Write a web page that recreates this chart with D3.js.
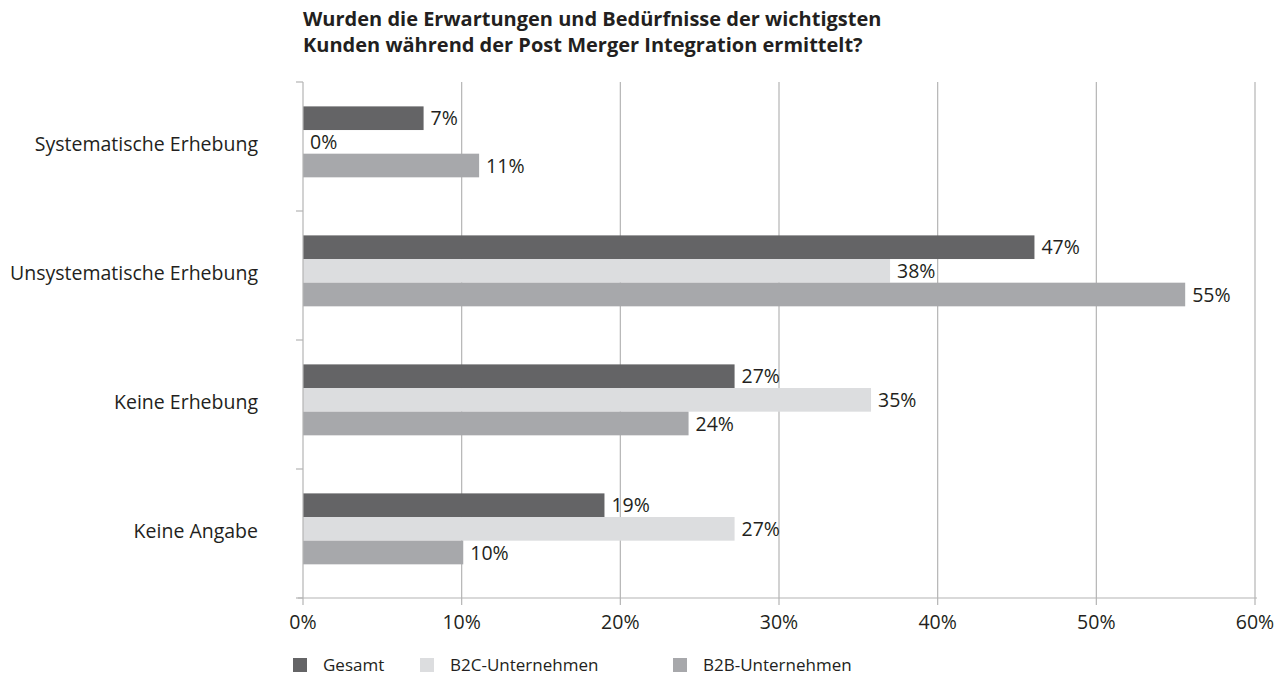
<!DOCTYPE html>
<html>
<head>
<meta charset="utf-8">
<script src="https://cdn.jsdelivr.net/npm/d3@7"></script>
<style>
  html, body { margin: 0; padding: 0; background: #fff; }
  svg { display: block; font-family: "Open Sans", "Noto Sans", sans-serif; }
</style>
</head>
<body>
<svg id="chart" width="1287" height="678"></svg>
<script>
// ---- data ----
const titleLines = [
  "Wurden die Erwartungen und Bedürfnisse der wichtigsten",
  "Kunden während der Post Merger Integration ermittelt?"
];
const categories = ["Systematische Erhebung", "Unsystematische Erhebung", "Keine Erhebung", "Keine Angabe"];
const seriesNames = ["Gesamt", "B2C-Unternehmen", "B2B-Unternehmen"];
// bar lengths as drawn in the picture (%)
const gesamtBars = [7.6, 46.1, 27.2, 19.0];
const b2cBars    = [0, 37.0, 35.8, 27.2];
const b2bBars    = [11.1, 55.6, 24.3, 10.1];
// printed value labels (%)
const gesamtLabels = [7, 47, 27, 19];
const b2cLabels    = [0, 38, 35, 27];
const b2bLabels    = [11, 55, 24, 10];
const xTicks = [0, 10, 20, 30, 40, 50, 60];
const colors = ["#646466", "#dcdddf", "#a7a8ab"];

const bars = [gesamtBars, b2cBars, b2bBars];
const labels = [gesamtLabels, b2cLabels, b2bLabels];

// ---- layout ----
const svg = d3.select("#chart");
const mLeft = 303, mRight = 1255, mTop = 82, mBottom = 598;

const x = d3.scaleLinear().domain([0, 60]).range([mLeft, mRight]);
const y = d3.scaleBand().domain(categories).range([mTop, mBottom])
  .paddingInner(0.45).paddingOuter(0.225).align(0.42);
const ySub = d3.scaleBand().domain(seriesNames).range([0, y.bandwidth()]);

const textColor = "#231f20";
const gridColor = "#b4b4b4";
const fs = 19.5;

// title
svg.append("g").selectAll("text").data(titleLines).join("text")
  .attr("x", mLeft).attr("y", (d, i) => 26 + i * 26)
  .attr("font-size", 20).attr("font-weight", 700).attr("fill", textColor)
  .text(d => d);

// gridlines
svg.append("g").selectAll("line").data(xTicks.slice(1)).join("line")
  .attr("x1", d => x(d)).attr("x2", d => x(d))
  .attr("y1", mTop).attr("y2", mBottom + 7)
  .attr("stroke", gridColor).attr("stroke-width", 1.2);

// bars
const groups = svg.append("g").selectAll("g").data(categories).join("g")
  .attr("transform", d => `translate(0,${y(d)})`);

seriesNames.forEach((s, si) => {
  groups.append("rect")
    .attr("x", x(0))
    .attr("y", ySub(s))
    .attr("width", (d, ci) => x(bars[si][ci]) - x(0))
    .attr("height", ySub.bandwidth())
    .attr("fill", colors[si]);
  groups.append("text")
    .attr("x", (d, ci) => x(bars[si][ci]) + 7)
    .attr("y", ySub(s) + ySub.bandwidth() / 2)
    .attr("dy", "0.36em")
    .attr("font-size", fs).attr("fill", textColor)
    .text((d, ci) => labels[si][ci] + "%");
});

// left axis line and ticks at band boundaries
svg.append("line").attr("x1", x(0)).attr("x2", x(0)).attr("y1", mTop).attr("y2", mBottom + 7)
  .attr("stroke", gridColor).attr("stroke-width", 1.2);
const step = (mBottom - mTop) / categories.length;
const bounds = d3.range(categories.length + 1).map(i => mTop + i * step);
svg.append("g").selectAll("line").data(bounds).join("line")
  .attr("x1", x(0) - 7).attr("x2", x(0))
  .attr("y1", d => d).attr("y2", d => d)
  .attr("stroke", gridColor).attr("stroke-width", 1.2);

// bottom axis
svg.append("line").attr("x1", x(0) - 5).attr("x2", x(60) + 2).attr("y1", mBottom).attr("y2", mBottom)
  .attr("stroke", gridColor).attr("stroke-width", 1.2);
svg.append("g").selectAll("text").data(xTicks).join("text")
  .attr("x", d => x(d)).attr("y", 629)
  .attr("text-anchor", "middle").attr("font-size", fs).attr("fill", textColor)
  .text(d => d + "%");

// category labels
svg.append("g").selectAll("text").data(categories).join("text")
  .attr("x", 258).attr("y", d => y(d) + y.bandwidth() / 2 + 2)
  .attr("dy", "0.36em").attr("text-anchor", "end")
  .attr("font-size", fs).attr("fill", textColor)
  .text(d => d);

// legend
const legendX = [293, 420, 673];
const leg = svg.append("g").selectAll("g").data(seriesNames).join("g")
  .attr("transform", (d, i) => `translate(${legendX[i]},658)`);
leg.append("rect").attr("width", 14).attr("height", 14).attr("fill", (d, i) => colors[i]);
leg.append("text").attr("x", 30).attr("y", 7).attr("dy", "0.36em")
  .attr("font-size", 17).attr("fill", textColor).text(d => d);
</script>
</body>
</html>
